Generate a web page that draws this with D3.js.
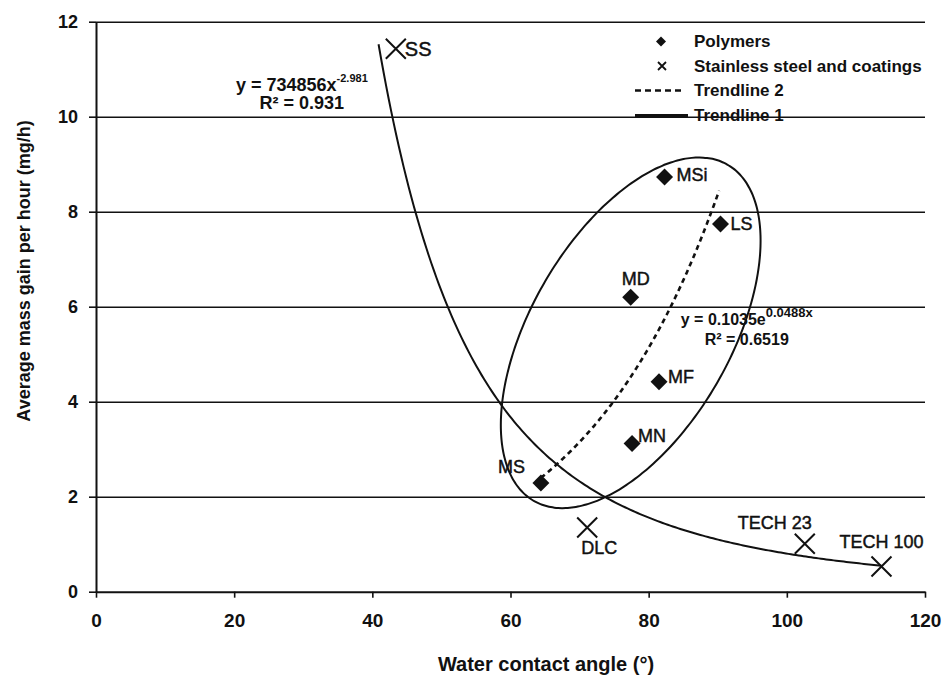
<!DOCTYPE html>
<html>
<head>
<meta charset="utf-8">
<script src="https://cdn.jsdelivr.net/npm/d3@7"></script>
<style>
  body { margin: 0; background: #fff; }
  svg { display: block; }
  text { font-family: "Liberation Sans", Arial, Helvetica, sans-serif; fill: #111; }
</style>
</head>
<body>
<svg id="chart" width="946" height="678"></svg>
<script>
// Measured samples
const polymerNames = ["MSi", "LS", "MD", "MF", "MN", "MS"];
const polymerAngle = [82.3, 90.4, 77.4, 81.5, 77.6, 64.4];
const polymerGain  = [8.73, 7.74, 6.20, 4.42, 3.12, 2.29];

const steelNames = ["SS", "DLC", "TECH 23", "TECH 100"];
const steelAngle = [43.4, 71.1, 102.6, 113.7];
const steelGain  = [11.43, 1.35, 1.01, 0.53];

const xTicks = [0, 20, 40, 60, 80, 100, 120];
const yTicks = [0, 2, 4, 6, 8, 10, 12];

// Trendline 1: power fit y = a·x^b
const powerFit = { a: 734856, b: -2.981, r2: "0.931", from: 40.9, to: 113.7 };
// Trendline 2: exponential fit y = a·e^(b·x)
const expFit = { a: 0.1035, b: 0.0488, r2: "0.6519", from: 64.4, to: 90.2 };

// Ellipse grouping the polymers: centre plus the two conjugate half-axes (data units)
const groupCentre = [77.4, 5.45];
const groupAxisU = [18.8, 1.94];
const groupAxisV = [0, -3.14];

const legendLabels = ["Polymers", "Stainless steel and coatings", "Trendline 2", "Trendline 1"];

// ---------------------------------------------------------------
const svg = d3.select("#chart");
const x = d3.scaleLinear().domain([0, 120]).range([96, 925]);
const y = d3.scaleLinear().domain([0, 12]).range([591.7, 21.7]);
const ink = "#111";

// horizontal gridlines
svg.append("g")
  .attr("transform", `translate(${x(0)},0)`)
  .call(d3.axisLeft(y).tickValues(yTicks.filter(v => v > 0)).tickSize(-(x(120) - x(0))).tickFormat(""))
  .call(g => g.select(".domain").remove())
  .call(g => g.selectAll("line").attr("stroke", ink).attr("stroke-width", 1.6));

// y axis
svg.append("g")
  .attr("transform", `translate(${x(0)},0)`)
  .call(d3.axisLeft(y).tickValues(yTicks).tickSize(7).tickSizeOuter(0).tickPadding(11))
  .call(g => g.select(".domain").attr("stroke", ink).attr("stroke-width", 2))
  .call(g => g.selectAll("line").attr("stroke", ink).attr("stroke-width", 1.6))
  .call(g => g.selectAll("text")
    .attr("fill", ink).style("font-size", "18px").style("font-weight", "bold")
    .style("font-family", '"Liberation Sans", Arial, sans-serif'));

// x axis
svg.append("g")
  .attr("transform", `translate(0,${y(0)})`)
  .call(d3.axisBottom(x).tickValues(xTicks).tickSize(6).tickSizeOuter(0))
  .call(g => g.select(".domain").attr("stroke", ink).attr("stroke-width", 2))
  .call(g => g.selectAll("line").attr("stroke", ink).attr("stroke-width", 1.6))
  .call(g => g.selectAll("text")
    .attr("y", 29).attr("dy", "0.35em")
    .attr("fill", ink).style("font-size", "19px").style("font-weight", "bold")
    .style("font-family", '"Liberation Sans", Arial, sans-serif'));

// axis titles
svg.append("text")
  .attr("transform", `translate(24,271) rotate(-90)`)
  .attr("text-anchor", "middle").attr("dy", "0.35em")
  .style("font-size", "18px").style("font-weight", "bold")
  .text("Average mass gain per hour (mg/h)");

svg.append("text")
  .attr("x", 546).attr("y", 664).attr("dy", "0.35em")
  .attr("text-anchor", "middle")
  .style("font-size", "20px").style("font-weight", "bold")
  .text("Water contact angle (°)");

// ellipse around the polymer group
const tSteps = d3.range(0, 360, 2).map(d => d * Math.PI / 180);
const ellipsePts = tSteps.map(t => [
  groupCentre[0] + groupAxisU[0] * Math.cos(t) + groupAxisV[0] * Math.sin(t),
  groupCentre[1] + groupAxisU[1] * Math.cos(t) + groupAxisV[1] * Math.sin(t)
]);
svg.append("path")
  .attr("d", d3.line().x(d => x(d[0])).y(d => y(d[1])).curve(d3.curveCardinalClosed)(ellipsePts))
  .attr("fill", "none").attr("stroke", ink).attr("stroke-width", 2);

// trendlines
function fitCurve(fit, f) {
  const n = 200;
  return d3.range(n + 1).map(i => {
    const xv = fit.from + (fit.to - fit.from) * i / n;
    return [xv, f(xv)];
  });
}
const powerPts = fitCurve(powerFit, v => powerFit.a * Math.pow(v, powerFit.b));
const expPts = fitCurve(expFit, v => expFit.a * Math.exp(expFit.b * v));
const line = d3.line().x(d => x(d[0])).y(d => y(d[1]));

svg.append("path").attr("d", line(powerPts))
  .attr("fill", "none").attr("stroke", ink).attr("stroke-width", 2);
svg.append("path").attr("d", line(expPts))
  .attr("fill", "none").attr("stroke", ink).attr("stroke-width", 2.6)
  .attr("stroke-dasharray", "5,4");

// markers
const polymers = polymerNames.map((n, i) => ({ name: n, x: polymerAngle[i], y: polymerGain[i] }));
const steels = steelNames.map((n, i) => ({ name: n, x: steelAngle[i], y: steelGain[i] }));

const diamond = d3.symbol().type(d3.symbolSquare).size(144)();
svg.append("g").selectAll("path").data(polymers).join("path")
  .attr("d", diamond)
  .attr("transform", d => `translate(${x(d.x)},${y(d.y)}) rotate(45)`)
  .attr("fill", ink);

const cross = "M-10,-10L10,10M-10,10L10,-10";
svg.append("g").selectAll("path").data(steels).join("path")
  .attr("d", cross)
  .attr("transform", d => `translate(${x(d.x)},${y(d.y)})`)
  .attr("fill", "none").attr("stroke", ink).attr("stroke-width", 2);

// point labels, offset from their markers
const labelOffset = {
  "MSi": [12, -2, "start"], "LS": [10, 0, "start"], "MD": [5, -19, "middle"],
  "MF": [9, -5, "start"], "MN": [6, -8, "start"], "MS": [-16, -16, "end"],
  "SS": [9, 0, "start"], "DLC": [-6, 20, "start"],
  "TECH 23": [7, -21, "end"], "TECH 100": [42, -25, "end"]
};
svg.append("g").selectAll("text").data(polymers.concat(steels)).join("text")
  .attr("x", d => x(d.x) + labelOffset[d.name][0])
  .attr("y", d => y(d.y) + labelOffset[d.name][1])
  .attr("dy", "0.35em")
  .attr("text-anchor", d => labelOffset[d.name][2])
  .attr("stroke", ink).attr("stroke-width", 0.45)
  .style("font-size", d => d.name === "SS" ? "20px" : "18px")
  .text(d => d.name);

// fit equations
function equation(cx, cy, lead, sup, r2, size, supSize, supShift, gap) {
  const t = svg.append("text")
    .attr("x", x(cx)).attr("y", y(cy))
    .attr("text-anchor", "middle")
    .style("font-size", size + "px").style("font-weight", "bold");
  t.append("tspan").text(lead);
  t.append("tspan").attr("dy", -supShift).style("font-size", supSize + "px").text(sup);
  svg.append("text")
    .attr("x", x(cx)).attr("y", y(cy) + gap)
    .attr("text-anchor", "middle")
    .style("font-size", size + "px").style("font-weight", "bold")
    .text("R² = " + r2);
}
equation(29.8, 10.54, "y = " + powerFit.a + "x", String(powerFit.b), powerFit.r2, 18, 11, 9, 18);
equation(94.2, 5.61, "y = " + expFit.a + "e", expFit.b + "x", expFit.r2, 16, 13, 8, 20);

// legend
const legend = svg.append("g");
const rowY = [41.5, 66, 90.5, 115.5];
const swatchX = 661, textX = 694;
legend.append("path")
  .attr("d", d3.symbol().type(d3.symbolSquare).size(50)())
  .attr("transform", `translate(${swatchX},${rowY[0]}) rotate(45)`)
  .attr("fill", ink);
legend.append("path")
  .attr("d", "M-4,-4L4,4M-4,4L4,-4")
  .attr("transform", `translate(${swatchX + 1},${rowY[1]})`)
  .attr("stroke", ink).attr("stroke-width", 1.8);
legend.append("line")
  .attr("x1", 635).attr("x2", 684).attr("y1", rowY[2]).attr("y2", rowY[2])
  .attr("stroke", ink).attr("stroke-width", 2.6).attr("stroke-dasharray", "6,4");
legend.append("line")
  .attr("x1", 635).attr("x2", 688).attr("y1", rowY[3]).attr("y2", rowY[3])
  .attr("stroke", ink).attr("stroke-width", 3);
legend.selectAll("text.lbl").data(legendLabels).join("text")
  .attr("class", "lbl")
  .attr("x", textX).attr("y", (d, i) => rowY[i]).attr("dy", "0.35em")
  .style("font-size", "17px").style("font-weight", "bold")
  .text(d => d);
</script>
</body>
</html>
